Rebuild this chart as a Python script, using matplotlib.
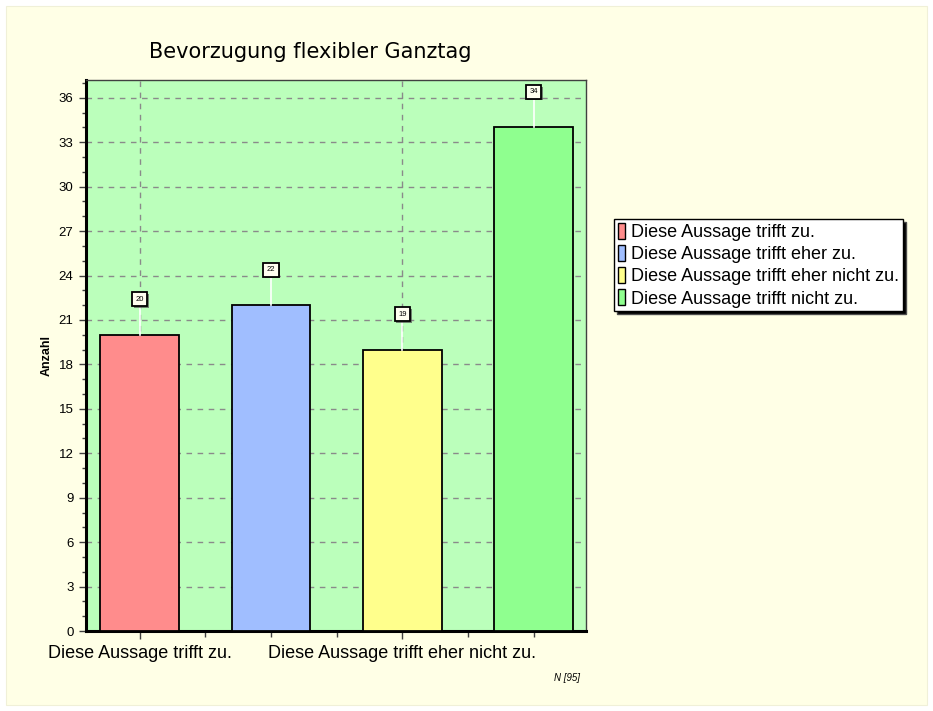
import matplotlib.pyplot as plt
import matplotlib.patheffects as pe
from matplotlib.patches import Patch, Rectangle

categories = ["Diese Aussage trifft zu.", "Diese Aussage trifft eher zu.",
              "Diese Aussage trifft eher nicht zu.", "Diese Aussage trifft nicht zu."]
counts = [20, 22, 19, 34]
colors = ["#FF8C8C", "#A0BEFF", "#FFFF8C", "#8FFF8F"]
title = "Bevorzugung flexibler Ganztag"
n_label = "N [95]"

plt.rcParams['font.family'] = ['Liberation Sans', 'DejaVu Sans']

fig = plt.figure(figsize=(9.33, 7.11), dpi=100)
fig.patch.set_facecolor("white")
# light yellow panel behind everything
fig.patches.append(Rectangle((6 / 933, 6 / 711), 921 / 933, 699 / 711,
                             transform=fig.transFigure, facecolor="#FFFFE6",
                             edgecolor="#F0F0D8", lw=0.8, zorder=-5))

ax = fig.add_axes([86 / 933, 80 / 711, 500 / 933, 551 / 711])
ax.set_zorder(1)
ax.set_facecolor("#BBFFBB")

x = list(range(len(counts)))
ax.bar(x, counts, width=0.6, color=colors, edgecolor="black", lw=1.3, zorder=3)

ax.set_xlim(-0.41, 3.4)
ax.set_ylim(0, 37.2)

# grid
ax.set_yticks(range(0, 37, 3))
ax.set_yticks(range(0, 38), minor=True)
ax.yaxis.grid(True, which="major", ls=(0, (4, 4)), color="#8A8A8A", lw=1, zorder=1)

# x ticks: labels only on every other category
ax.set_xticks(x[::2])
ax.set_xticklabels(categories[::2], fontsize=13)
ax.set_xticks([0.5, 1, 1.5, 2.5, 3], minor=True)
ax.xaxis.grid(True, which="major", ls=(0, (4, 4)), color="#8A8A8A", lw=1, zorder=1)
ax.tick_params(axis="x", which="major", length=6, width=1, color="#404040", pad=4)
ax.tick_params(axis="x", which="minor", length=4, width=1, color="#404040")
ax.tick_params(axis="y", which="major", length=5, width=1, color="#404040",
               labelsize=9.5, pad=4)
ax.tick_params(axis="y", which="minor", length=3, width=1, color="#404040")

for side in ["top", "right"]:
    ax.spines[side].set_color("#404040")
    ax.spines[side].set_linewidth(1)
ax.spines["left"].set_linewidth(2.2)
ax.spines["bottom"].set_linewidth(2.2)

ax.set_ylabel("Anzahl", fontsize=9, fontweight="bold", labelpad=4)

# value labels with leader lines
for xi, v in zip(x, counts):
    ax.plot([xi, xi], [v, v + 2.4], color="white", lw=1.2, zorder=4)
    t = ax.text(xi, v + 2.4, str(v), fontsize=5.5, ha="center", va="center", zorder=6,
                bbox=dict(boxstyle="square,pad=0.45", facecolor="#FFFFF0",
                          edgecolor="black", lw=1.3))
    t.get_bbox_patch().set_path_effects([
        pe.SimplePatchShadow(offset=(1.2, -1.2), shadow_rgbFace="#505050", alpha=0.7),
        pe.Normal()])

fig.text(310 / 933, 1 - 52 / 711, title, fontsize=15, ha="center", va="center",
         family=["DejaVu Sans"])
fig.text(580 / 933, 1 - 678 / 711, n_label, fontsize=7, style="italic",
         ha="right", va="center")

handles = [Patch(facecolor=c, edgecolor="black", lw=1) for c in colors]
leg = fig.legend(handles, categories, loc="upper left",
                 bbox_to_anchor=(614 / 933, 1 - 219 / 711), borderaxespad=0,
                 fontsize=13, handlelength=0.4, handleheight=1.0,
                 handletextpad=0.35, labelspacing=0.22, borderpad=0.2,
                 fancybox=False, frameon=True,
                 shadow={"facecolor": "black", "alpha": 1})
leg.get_frame().set_edgecolor("black")
leg.get_frame().set_linewidth(1)

fig.savefig("out.png", dpi=100)
